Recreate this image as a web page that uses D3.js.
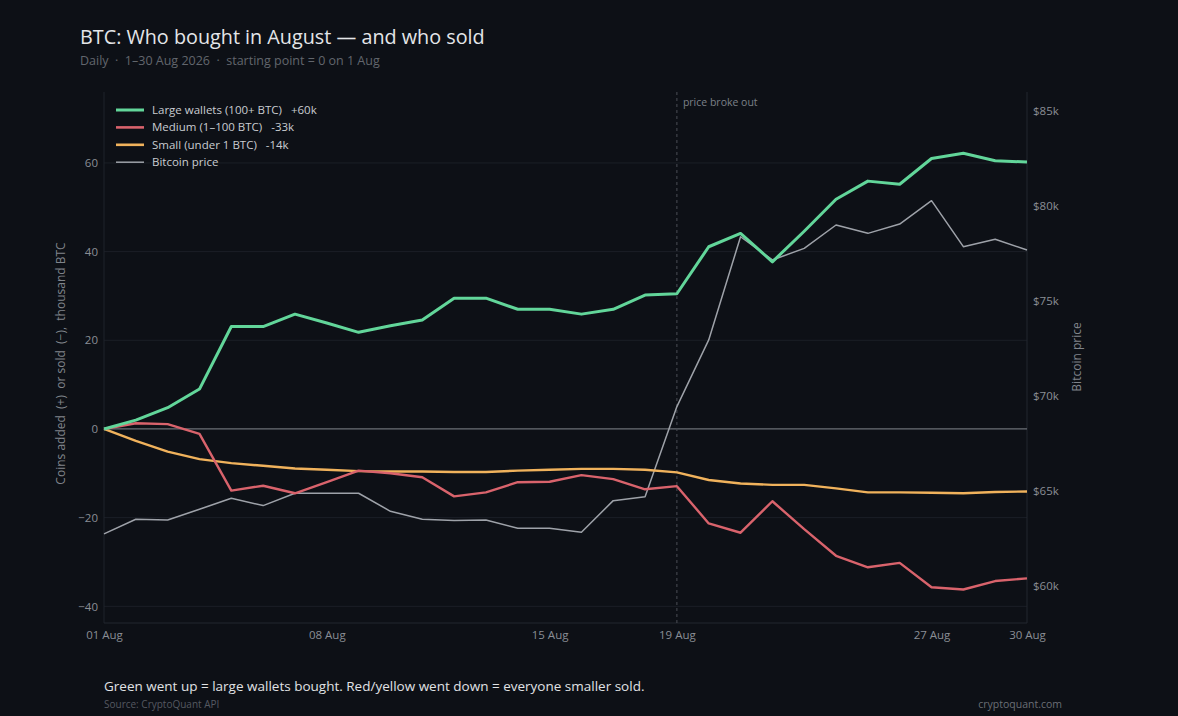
<!DOCTYPE html>
<html><head><meta charset="utf-8">
<script src="https://cdn.jsdelivr.net/npm/d3@7"></script>
<style>
html,body{margin:0;padding:0;background:#0d1016;}
svg{display:block;font-family:"Open Sans","Noto Sans",sans-serif;}
</style></head>
<body>
<script>
// ---- data ----
const days = d3.range(1, 31); // 1..30 Aug 2026
const largeWallets = [0, 2.0, 4.8, 9.0, 23.1, 23.1, 25.9, 23.9, 21.8, 23.3, 24.6, 29.5, 29.5, 27.0, 27.0, 25.9, 27.0, 30.2, 30.5, 41.1, 44.1, 37.7, 44.6, 51.8, 55.9, 55.2, 61.0, 62.2, 60.5, 60.2];
const mediumWallets = [0, 1.3, 1.1, -1.1, -13.9, -12.8, -14.5, -12.0, -9.4, -10.0, -10.9, -15.2, -14.3, -12.0, -11.9, -10.4, -11.3, -13.6, -12.9, -21.3, -23.4, -16.3, -22.6, -28.6, -31.2, -30.2, -35.7, -36.2, -34.3, -33.7];
const smallWallets = [0, -2.7, -5.1, -6.8, -7.7, -8.3, -8.9, -9.2, -9.5, -9.6, -9.6, -9.7, -9.7, -9.4, -9.2, -9.0, -9.0, -9.2, -9.8, -11.5, -12.3, -12.6, -12.6, -13.4, -14.3, -14.3, -14.4, -14.5, -14.2, -14.1];
const bitcoinPrice = [62740, 63510, 63470, 64040, 64620, 64230, 64880, 64880, 64880, 63930, 63510, 63440, 63470, 63040, 63040, 62830, 64490, 64700, 69440, 72950, 78380, 77160, 77770, 79000, 78560, 79050, 80280, 77860, 78250, 77680];
const xTickDays = [1, 8, 15, 19, 27, 30];
const xTickLabels = ["01 Aug", "08 Aug", "15 Aug", "19 Aug", "27 Aug", "30 Aug"];
const leftTicks = [-40, -20, 0, 20, 40, 60];
const rightTicks = [60000, 65000, 70000, 75000, 80000, 85000];
const seriesNames = ["Large wallets (100+ BTC)   +60k", "Medium (1–100 BTC)   -33k", "Small (under 1 BTC)   -14k", "Bitcoin price"];
const breakoutDay = 19;

const W = 1178, H = 716;
const m = {top: 92, right: 151, bottom: 93, left: 104};
const iw = W - m.left - m.right, ih = H - m.top - m.bottom;

const svg = d3.select("body").append("svg").attr("width", W).attr("height", H);
svg.append("rect").attr("width", W).attr("height", H).attr("fill", "#0d1016");

const x = d3.scaleLinear().domain([1, 30]).range([m.left, m.left + iw]);
const y = d3.scaleLinear().domain([-43.76, 76.0]).range([m.top + ih, m.top]);
const yP = d3.scaleLinear().domain([58050, 86000]).range([m.top + ih, m.top]);

const colors = {large: "#62d69a", medium: "#d9636c", small: "#f0b25c", price: "#9ea2a9"};

// grid
svg.append("g").selectAll("line").data(leftTicks.filter(d => d !== 0)).join("line")
  .attr("x1", m.left).attr("x2", m.left + iw)
  .attr("y1", d => y(d)).attr("y2", d => y(d))
  .attr("stroke", "#1b1f27").attr("stroke-width", 1);

// frame lines
svg.append("line").attr("x1", m.left).attr("x2", m.left).attr("y1", m.top).attr("y2", m.top + ih).attr("stroke", "#1f232b");
svg.append("line").attr("x1", m.left + iw).attr("x2", m.left + iw).attr("y1", m.top).attr("y2", m.top + ih).attr("stroke", "#22262e");
svg.append("line").attr("x1", m.left).attr("x2", m.left + iw).attr("y1", m.top + ih).attr("y2", m.top + ih).attr("stroke", "#22262e");

// zero line
svg.append("line").attr("x1", m.left).attr("x2", m.left + iw).attr("y1", y(0)).attr("y2", y(0))
  .attr("stroke", "#6b6f76").attr("stroke-width", 1.2);

// breakout marker
svg.append("line").attr("x1", x(breakoutDay)).attr("x2", x(breakoutDay)).attr("y1", m.top).attr("y2", m.top + ih)
  .attr("stroke", "#4a4e56").attr("stroke-width", 1).attr("stroke-dasharray", "3,3");
svg.append("text").attr("x", x(breakoutDay) + 6).attr("y", 106).attr("fill", "#7c8088")
  .attr("font-size", 10.5).text("price broke out");

// axes
const axL = d3.axisLeft(y).tickValues(leftTicks).tickSize(0).tickPadding(6).tickFormat(d => d < 0 ? "−" + Math.abs(d) : d);
const gL = svg.append("g").attr("transform", `translate(${m.left},0)`).call(axL);
const axR = d3.axisRight(yP).tickValues(rightTicks).tickSize(0).tickPadding(6).tickFormat(d => "$" + (d / 1000) + "k");
const gR = svg.append("g").attr("transform", `translate(${m.left + iw},0)`).call(axR);
const axB = d3.axisBottom(x).tickValues(xTickDays).tickSize(0).tickPadding(8).tickFormat((d, i) => xTickLabels[i]);
const gB = svg.append("g").attr("transform", `translate(0,${m.top + ih})`).call(axB);
[gL, gR, gB].forEach(g => {
  g.select(".domain").remove();
  g.selectAll("text").attr("fill", "#8a8e95").attr("font-size", 11.5).attr("font-family", '"Open Sans","Noto Sans",sans-serif');
});

// axis titles
svg.append("text").attr("transform", `translate(65,${(m.top + m.top + ih) / 2 + 6}) rotate(-90)`)
  .attr("text-anchor", "middle").attr("fill", "#80848b").attr("font-size", 12)
  .style("white-space", "pre")
  .text("Coins added  (+)  or sold  (−),  thousand BTC");
svg.append("text").attr("transform", `translate(1081,357) rotate(-90)`)
  .attr("text-anchor", "middle").attr("fill", "#80848b").attr("font-size", 12)
  .text("Bitcoin price");

// lines
const lineL = d3.line().x((d, i) => x(days[i])).y(d => y(d));
const lineP = d3.line().x((d, i) => x(days[i])).y(d => yP(d));
svg.append("path").datum(bitcoinPrice).attr("d", lineP).attr("fill", "none")
  .attr("stroke", colors.price).attr("stroke-width", 1.5).attr("stroke-linejoin", "round");
svg.append("path").datum(smallWallets).attr("d", lineL).attr("fill", "none")
  .attr("stroke", colors.small).attr("stroke-width", 2.4).attr("stroke-linejoin", "round");
svg.append("path").datum(mediumWallets).attr("d", lineL).attr("fill", "none")
  .attr("stroke", colors.medium).attr("stroke-width", 2.4).attr("stroke-linejoin", "round");
svg.append("path").datum(largeWallets).attr("d", lineL).attr("fill", "none")
  .attr("stroke", colors.large).attr("stroke-width", 3).attr("stroke-linejoin", "round");

// legend
const legColors = [colors.large, colors.medium, colors.small, colors.price];
const legW = [3, 2.6, 2.6, 1.5];
const leg = svg.append("g");
seriesNames.forEach((n, i) => {
  const ly = 110 + i * 17.4;
  leg.append("line").attr("x1", 116).attr("x2", 144).attr("y1", ly).attr("y2", ly)
    .attr("stroke", legColors[i]).attr("stroke-width", legW[i]);
  leg.append("text").attr("x", 152).attr("y", ly + 4).attr("fill", "#c9ccd1").attr("font-size", 11.5)
    .style("white-space", "pre").text(n);
});

// titles
svg.append("text").attr("x", 80).attr("y", 44).attr("fill", "#e4e6e9").attr("font-size", 19.8).text("BTC: Who bought in August — and who sold");
svg.append("text").attr("x", 80).attr("y", 65).attr("fill", "#62666d").attr("font-size", 12.5)
  .style("white-space", "pre").text("Daily  ·  1–30 Aug 2026  ·  starting point = 0 on 1 Aug");

// footer
svg.append("text").attr("x", 104).attr("y", 691).attr("fill", "#e0e2e5").attr("font-size", 13.5)
  .text("Green went up = large wallets bought. Red/yellow went down = everyone smaller sold.");
svg.append("text").attr("x", 104).attr("y", 708).attr("fill", "#555961").attr("font-size", 10).text("Source: CryptoQuant API");
svg.append("text").attr("x", 1062).attr("y", 708).attr("text-anchor", "end").attr("fill", "#6a6e75").attr("font-size", 10.5).text("cryptoquant.com");
</script>
</body></html>
